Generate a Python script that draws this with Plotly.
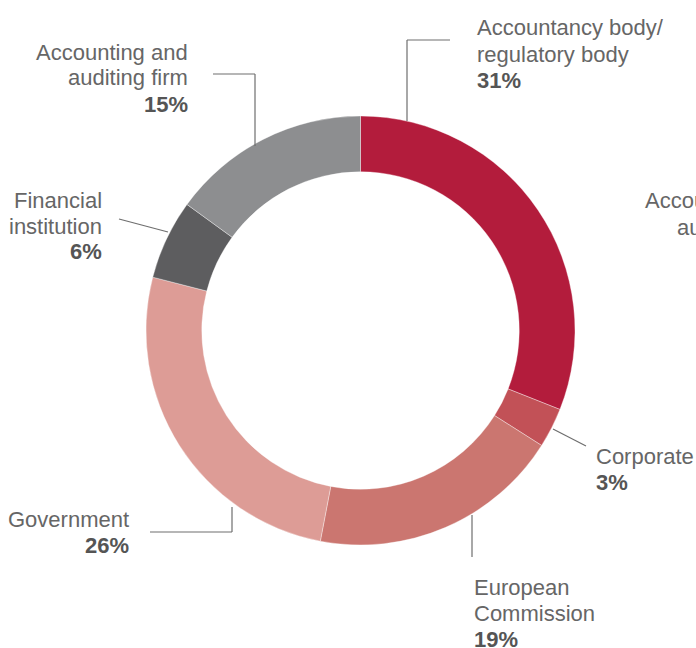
import plotly.graph_objects as go

W, H = 696, 648

categories = ["Accountancy body/regulatory body", "Corporate", "European Commission",
              "Government", "Financial institution", "Accounting and auditing firm"]
values = [31, 3, 19, 26, 6, 15]
colors = ["#b31c3c", "#c25157", "#cb7670", "#dd9c96", "#5d5d5f", "#8d8e90"]

# label text lines (name lines, percentage) per category
label_lines = [
    ["Accountancy body/", "regulatory body"],
    ["Corporate"],
    ["European", "Commission"],
    ["Government"],
    ["Financial", "institution"],
    ["Accounting and", "auditing firm"],
]

# layout: label anchor x, first-line center y, alignment
label_pos = [
    (475, 28, "left"),
    (594, 456, "left"),
    (472, 587, "left"),
    (131, 519, "right"),
    (104, 200, "right"),
    (190, 52, "right"),
]
LINE_STEP = 26

# leader line polylines in pixels
leaders = [
    [(407, 121), (407, 40), (450, 40)],
    [(553, 429), (586, 446)],
    [(472, 515), (472, 557)],
    [(232, 507), (232, 532), (150, 532)],
    [(168, 232), (119, 219)],
    [(255, 146), (255, 74), (213, 74)],
]

cx, cy, R = 360.5, 330.5, 214.5


def px(x):
    return x / W


def py(y):
    return 1 - y / H


fig = go.Figure(go.Pie(
    labels=categories,
    values=values,
    marker=dict(colors=colors, line=dict(color="rgba(255,255,255,0.6)", width=0.6)),
    hole=0.74,
    sort=False,
    direction="clockwise",
    rotation=0,
    textinfo="none",
    hoverinfo="label+percent",
    domain=dict(x=[px(cx - R), px(cx + R)], y=[py(cy + R), py(cy - R)]),
    showlegend=False,
))

annotations = []
total = sum(values)
FONT = "Liberation Sans, Arial, Helvetica, sans-serif"
FS = 22
for lines, v, (x, y0, align) in zip(label_lines, values, label_pos):
    all_lines = lines + [f"<b>{round(100 * v / total)}%</b>"]
    for i, t in enumerate(all_lines):
        bold = t.startswith("<b>")
        annotations.append(dict(
            x=px(x), y=py(y0 + i * LINE_STEP), xref="paper", yref="paper",
            text=t, showarrow=False, xanchor=align, yanchor="middle",
            font=dict(family=FONT, size=FS, color="#555555" if bold else "#666666"),
        ))

# clipped label at right edge of the reference
for t, x, y in [("Accountancy", 643, 201), ("auditing", 675, 227)]:
    annotations.append(dict(
        x=px(x), y=py(y), xref="paper", yref="paper", text=t, showarrow=False,
        xanchor="left", yanchor="middle",
        font=dict(family=FONT, size=FS, color="#666666"),
    ))

shapes = []
for pts in leaders:
    for (x0, y0), (x1, y1) in zip(pts[:-1], pts[1:]):
        shapes.append(dict(type="line", xref="paper", yref="paper",
                           x0=px(x0), y0=py(y0), x1=px(x1), y1=py(y1),
                           line=dict(color="#6e6e6e", width=1.2)))

fig.update_layout(
    width=W, height=H,
    margin=dict(l=0, r=0, t=0, b=0),
    paper_bgcolor="white", plot_bgcolor="white",
    annotations=annotations, shapes=shapes,
)

fig.write_html("out.html", config={"displayModeBar": False},
               post_script="document.body.style.margin='0';document.body.style.overflow='hidden';")
